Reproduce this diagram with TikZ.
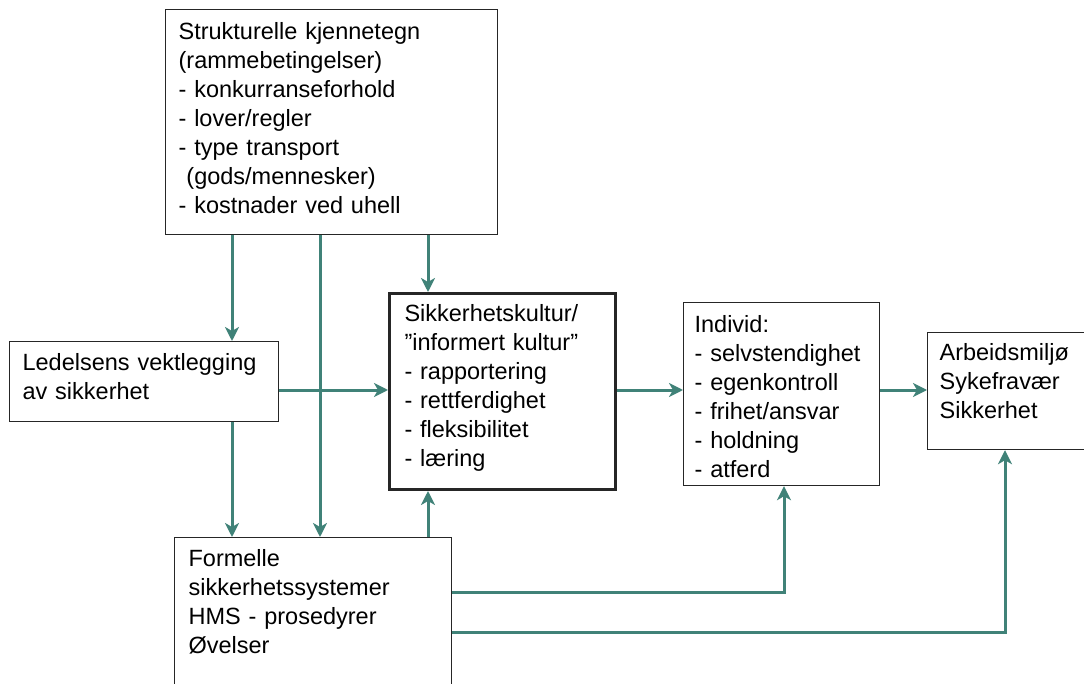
\documentclass[tikz,border=0pt]{standalone}
\usepackage{fontspec}
\setmainfont{Liberation Sans}
\usetikzlibrary{arrows.meta}
\definecolor{flowteal}{RGB}{64,130,120}
\tikzset{
	box/.style={draw=black!85, line width=1.2pt, anchor=north west, align=left,
		inner ysep=0pt, font=\fontsize{23.5pt}{29pt}\selectfont},
	flow/.style={draw=flowteal, line width=3pt,
		-{Stealth[length=14pt,width=14pt,inset=4pt]}}
}
\begin{document}
\begin{tikzpicture}[x=1pt,y=-1pt]
		\clip (0,0) rectangle (1084,684);
		\fill[white] (0,0) rectangle (1084,684);
		% boxes
		\node[box, inner xsep=13pt, text width=306pt, text height=30pt, text depth=195pt] (struct) at (165,9)
			{Strukturelle kjennetegn\\(rammebetingelser)\\- konkurranseforhold\\- lover/regler\\- type transport\\\ (gods/mennesker)\\- kostnader ved uhell};
		\node[box, inner xsep=13pt, text width=243pt, text height=29pt, text depth=51pt] (led) at (9,341)
			{Ledelsens vektlegging\\av sikkerhet};
		\node[box, line width=3pt, inner xsep=15pt, text width=196pt, text height=28pt, text depth=168pt] (kultur) at (388,292)
			{Sikkerhetskultur/\\”informert kultur”\\- rapportering\\- rettferdighet\\- fleksibilitet\\- læring};
		\node[box, inner xsep=14pt, text width=249pt, text height=29pt, text depth=124pt] (form) at (174,537)
			{Formelle\\sikkerhetssystemer\\HMS - prosedyrer\\Øvelser};
		\node[box, inner xsep=11pt, text width=174pt, text height=30pt, text depth=153pt] (indiv) at (683,302)
			{Individ:\\- selvstendighet\\- egenkontroll\\- frihet/ansvar\\- holdning\\- atferd};
		\node[box, inner xsep=12pt, text width=146pt, text height=28pt, text depth=89pt] (arb) at (927,332)
			{Arbeidsmiljø\\Sykefravær\\Sikkerhet};
		% columns and rows of the connectors
		\coordinate (c1) at (232,0);
		\coordinate (c2) at (320,0);
		\coordinate (c3) at (428,0);
		\coordinate (c4) at (784,0);
		\coordinate (c5) at (1005,0);
		\coordinate (r1) at (0,390);
		\coordinate (r2) at (0,592);
		\coordinate (r3) at (0,632);
		% connectors
		\draw[flow] (struct.south -| c1) -- (led.north -| c1);
		\draw[flow] (led.south -| c1) -- (form.north -| c1);
		\draw[flow] (struct.south -| c2) -- (form.north -| c2);
		\draw[flow] (struct.south -| c3) -- (kultur.north -| c3);
		\draw[flow] (form.north -| c3) -- (kultur.south -| c3);
		\draw[flow] (led.east |- r1) -- (kultur.west |- r1);
		\draw[flow] (kultur.east |- r1) -- (indiv.west |- r1);
		\draw[flow] (indiv.east |- r1) -- (arb.west |- r1);
		\draw[flow] (form.east |- r2) -| (indiv.south -| c4);
		\draw[flow] (form.east |- r3) -| (arb.south -| c5);
	\end{tikzpicture}
\end{document}
